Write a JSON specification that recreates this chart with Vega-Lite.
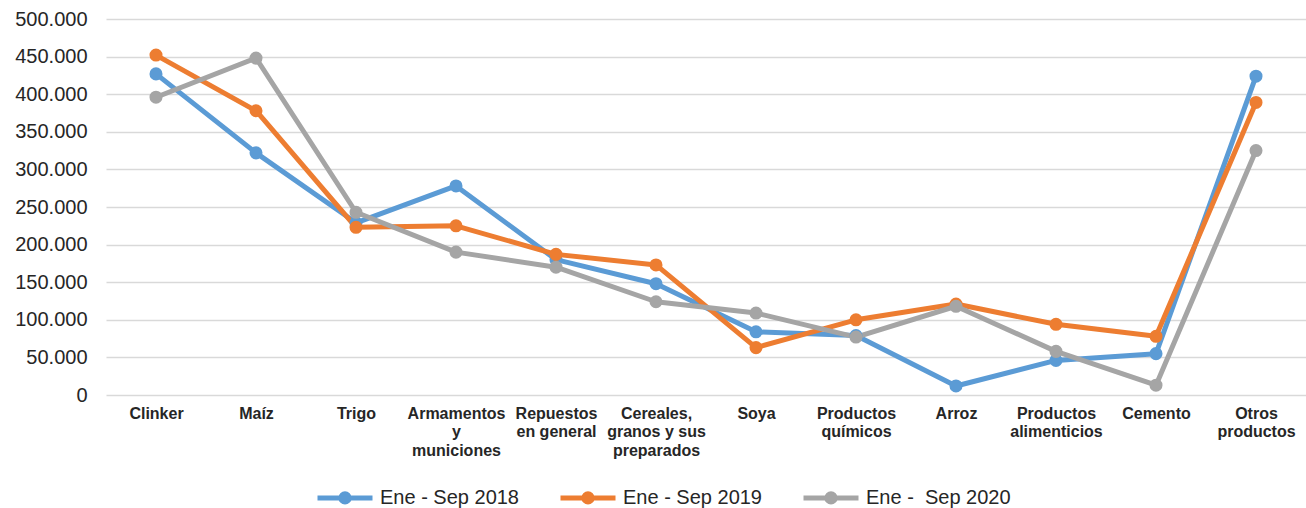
{
  "$schema": "https://vega.github.io/schema/vega-lite/v6.json",
  "width": 1200,
  "height": 376,
  "autosize": {"type": "none"},
  "padding": {"left": 106, "top": 19, "right": 0, "bottom": 113},
  "background": "white",
  "config": {
    "view": {"stroke": null},
    "font": "Liberation Sans"
  },
  "data": {
    "values": [
      {"producto": "Clinker", "periodo": "Ene - Sep 2018", "valor": 427000},
      {"producto": "Maíz", "periodo": "Ene - Sep 2018", "valor": 322000},
      {"producto": "Trigo", "periodo": "Ene - Sep 2018", "valor": 229000},
      {"producto": "Armamentos y municiones", "periodo": "Ene - Sep 2018", "valor": 278000},
      {"producto": "Repuestos en general", "periodo": "Ene - Sep 2018", "valor": 180000},
      {"producto": "Cereales, granos y sus preparados", "periodo": "Ene - Sep 2018", "valor": 148000},
      {"producto": "Soya", "periodo": "Ene - Sep 2018", "valor": 84000},
      {"producto": "Productos químicos", "periodo": "Ene - Sep 2018", "valor": 79000},
      {"producto": "Arroz", "periodo": "Ene - Sep 2018", "valor": 12000},
      {"producto": "Productos alimenticios", "periodo": "Ene - Sep 2018", "valor": 46000},
      {"producto": "Cemento", "periodo": "Ene - Sep 2018", "valor": 55000},
      {"producto": "Otros productos", "periodo": "Ene - Sep 2018", "valor": 424000},
      {"producto": "Clinker", "periodo": "Ene - Sep 2019", "valor": 452000},
      {"producto": "Maíz", "periodo": "Ene - Sep 2019", "valor": 378000},
      {"producto": "Trigo", "periodo": "Ene - Sep 2019", "valor": 223000},
      {"producto": "Armamentos y municiones", "periodo": "Ene - Sep 2019", "valor": 225000},
      {"producto": "Repuestos en general", "periodo": "Ene - Sep 2019", "valor": 187000},
      {"producto": "Cereales, granos y sus preparados", "periodo": "Ene - Sep 2019", "valor": 173000},
      {"producto": "Soya", "periodo": "Ene - Sep 2019", "valor": 63000},
      {"producto": "Productos químicos", "periodo": "Ene - Sep 2019", "valor": 100000},
      {"producto": "Arroz", "periodo": "Ene - Sep 2019", "valor": 121000},
      {"producto": "Productos alimenticios", "periodo": "Ene - Sep 2019", "valor": 94000},
      {"producto": "Cemento", "periodo": "Ene - Sep 2019", "valor": 78000},
      {"producto": "Otros productos", "periodo": "Ene - Sep 2019", "valor": 389000},
      {"producto": "Clinker", "periodo": "Ene - \u00a0Sep 2020", "valor": 396000},
      {"producto": "Maíz", "periodo": "Ene - \u00a0Sep 2020", "valor": 448000},
      {"producto": "Trigo", "periodo": "Ene - \u00a0Sep 2020", "valor": 243000},
      {"producto": "Armamentos y municiones", "periodo": "Ene - \u00a0Sep 2020", "valor": 190000},
      {"producto": "Repuestos en general", "periodo": "Ene - \u00a0Sep 2020", "valor": 170000},
      {"producto": "Cereales, granos y sus preparados", "periodo": "Ene - \u00a0Sep 2020", "valor": 124000},
      {"producto": "Soya", "periodo": "Ene - \u00a0Sep 2020", "valor": 109000},
      {"producto": "Productos químicos", "periodo": "Ene - \u00a0Sep 2020", "valor": 77000},
      {"producto": "Arroz", "periodo": "Ene - \u00a0Sep 2020", "valor": 118000},
      {"producto": "Productos alimenticios", "periodo": "Ene - \u00a0Sep 2020", "valor": 58000},
      {"producto": "Cemento", "periodo": "Ene - \u00a0Sep 2020", "valor": 13000},
      {"producto": "Otros productos", "periodo": "Ene - \u00a0Sep 2020", "valor": 325000}
    ]
  },
  "encoding": {
    "x": {
      "field": "producto",
      "type": "nominal",
      "sort": null,
      "scale": {"type": "point", "padding": 0.5},
      "axis": {
        "title": null,
        "domain": false,
        "ticks": false,
        "grid": false,
        "labelAngle": 0,
        "labelFont": "Liberation Sans",
        "labelFontSize": 16,
        "labelFontWeight": "bold",
        "labelColor": "#262626",
        "labelPadding": 10,
        "labelLineHeight": 18.5,
        "labelBaseline": "top",
        "labelLimit": 200,
        "labelExpr": "datum.value == 'Armamentos y municiones' ? ['Armamentos', 'y', 'municiones'] : datum.value == 'Repuestos en general' ? ['Repuestos', 'en general'] : datum.value == 'Cereales, granos y sus preparados' ? ['Cereales,', 'granos y sus', 'preparados'] : datum.value == 'Productos químicos' ? ['Productos', 'químicos'] : datum.value == 'Productos alimenticios' ? ['Productos', 'alimenticios'] : datum.value == 'Otros productos' ? ['Otros', 'productos'] : datum.value"
      }
    },
    "y": {
      "field": "valor",
      "type": "quantitative",
      "scale": {"domain": [0, 500000], "nice": false},
      "axis": {
        "title": null,
        "domain": false,
        "ticks": false,
        "values": [0, 50000, 100000, 150000, 200000, 250000, 300000, 350000, 400000, 450000, 500000],
        "gridColor": "#d9d9d9",
        "gridWidth": 1.5,
        "labelFont": "Liberation Sans",
        "labelFontSize": 20,
        "labelColor": "#262626",
        "labelPadding": 19,
        "labelExpr": "replace(format(datum.value, ','), ',', '.')"
      }
    },
    "color": {
      "field": "periodo",
      "type": "nominal",
      "sort": null,
      "scale": {
        "domain": ["Ene - Sep 2018", "Ene - Sep 2019", "Ene - \u00a0Sep 2020"],
        "range": ["#5b9bd5", "#ed7d31", "#a5a5a5"]
      },
      "legend": {
        "title": null,
        "orient": "none",
        "direction": "horizontal",
        "legendX": 209,
        "legendY": 448.5,
        "padding": 0,
        "symbolType": "M-1,0L1,0M0.09,0A0.09,0.09,0,1,1,-0.09,0A0.09,0.09,0,1,1,0.09,0M0.15,0A0.15,0.15,0,1,1,-0.15,0A0.15,0.15,0,1,1,0.15,0",
        "symbolSize": 3025,
        "symbolStrokeWidth": 5,
        "symbolOpacity": 1,
        "labelFont": "Liberation Sans",
        "labelFontSize": 20,
        "labelColor": "#262626",
        "labelOffset": 5,
        "labelLimit": 300,
        "columnPadding": 31
      }
    }
  },
  "layer": [
    {
      "mark": {"type": "line", "strokeWidth": 5, "strokeJoin": "round"}
    },
    {
      "mark": {"type": "point", "filled": true, "size": 170, "opacity": 1}
    }
  ]
}
